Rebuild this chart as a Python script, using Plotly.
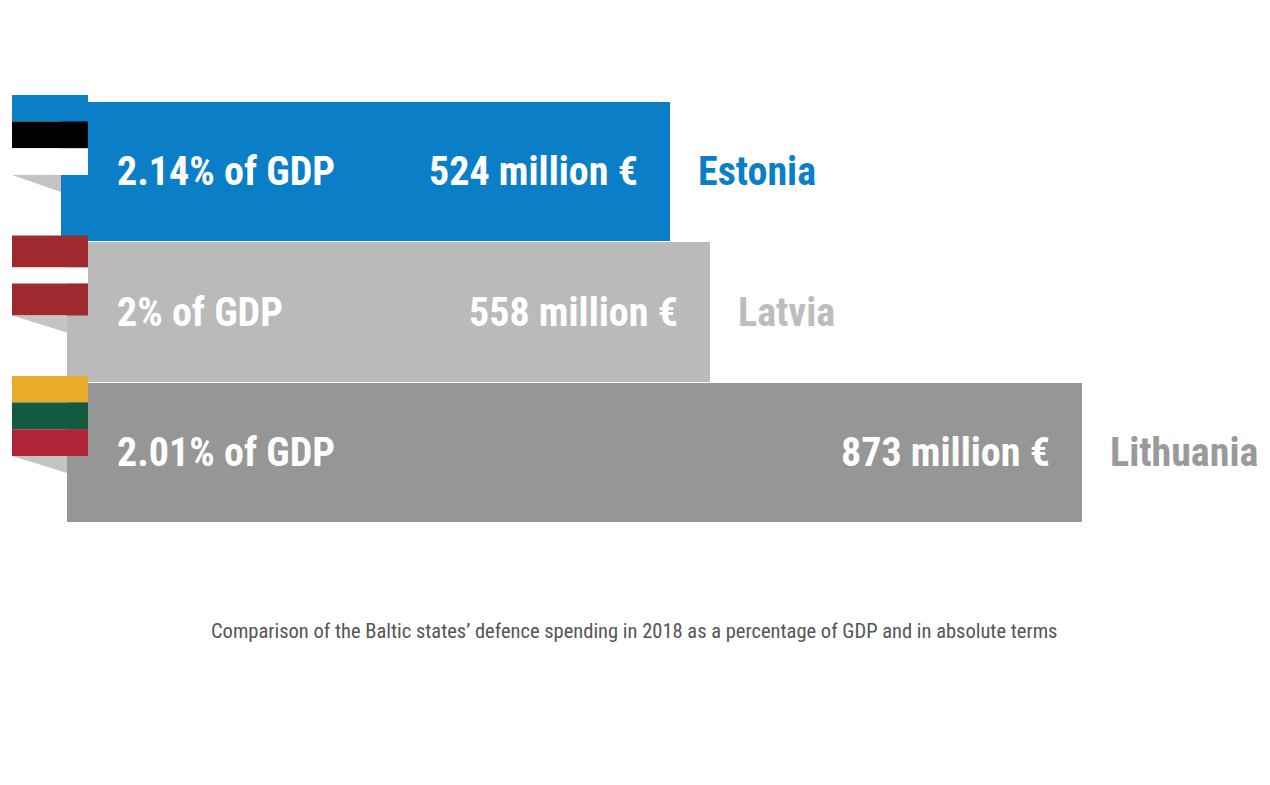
import plotly.graph_objects as go

countries = ["Estonia", "Latvia", "Lithuania"]
spend_meur = [524, 558, 873]
gdp_pct = ["2.14", "2", "2.01"]
caption = "Comparison of the Baltic states\u2019 defence spending in 2018 as a percentage of GDP and in absolute terms"

bar_colors = ["#0a7fc7", "#bababa", "#969696"]
name_colors = ["#0a7fc7", "#bdbdbd", "#9a9a9a"]
bar_base = [7.6, 12.7, 12.7]
flag_stripes = [
    [("#0a7fc7", 1), ("#000000", 1), ("#ffffff", 1)],
    [("#9e2a2f", 2), ("#ffffff", 1), ("#9e2a2f", 2)],
    [("#e8ab2a", 1), ("#125b3f", 1), ("#b0243a", 1)],
]

# page has an 8px body margin, so the figure is a bit smaller than the window
OFF = 8
W, H = 1270 - 2 * OFF, 785 - 2 * OFF
px0, kx = 52 - OFF, 1.18       # pixel of zero and pixels per million
py0, ky = 171.5 - OFF, 140.5   # pixel centre of first bar and bar pitch

big = "Roboto Condensed, Liberation Sans Narrow, Roboto, sans-serif"


def px(x):
    return (x - OFF) / W


fig = go.Figure()
ys = list(range(len(countries)))
fig.add_trace(go.Bar(
    y=ys,
    x=[v - b for v, b in zip(spend_meur, bar_base)],
    base=bar_base,
    orientation="h",
    width=0.99,
    marker=dict(color=bar_colors, line=dict(width=0)),
    hoverinfo="skip",
))

shapes = []
annotations = []
flag_h = 80 / ky
for i, c in enumerate(countries):
    top = i - 0.545
    total = sum(s[1] for s in flag_stripes[i])
    y = top
    for col, share in flag_stripes[i]:
        h = flag_h * share / total
        shapes.append(dict(type="rect", xref="paper", yref="y",
                           x0=px(12), x1=px(88), y0=y, y1=y + h,
                           fillcolor=col, line=dict(width=0), layer="above"))
        y += h
    # shadow wedge under the flag
    x_a = (12 - 52) / kx
    x_b = bar_base[i]
    shapes.append(dict(type="path", xref="x", yref="y",
                       path=f"M {x_a},{y} L {x_b},{y} L {x_b},{y + 17 / ky} Z",
                       fillcolor="#c4c4c4", line=dict(width=0), layer="above"))

    annotations.append(dict(x=px(115), xref="paper", y=i, yref="y",
                            text=f"{gdp_pct[i]}% of GDP", showarrow=False,
                            xanchor="left", yanchor="middle",
                            font=dict(family=big, size=40, color="white", weight="bold")))
    annotations.append(dict(x=spend_meur[i], xref="x", y=i, yref="y",
                            text=f"{spend_meur[i]} million \u20ac", showarrow=False,
                            xanchor="right", yanchor="middle", xshift=-30,
                            font=dict(family=big, size=40, color="white", weight="bold")))
    annotations.append(dict(x=spend_meur[i], xref="x", y=i, yref="y",
                            text=c, showarrow=False,
                            xanchor="left", yanchor="middle", xshift=26,
                            font=dict(family=big, size=40, color=name_colors[i], weight="bold")))

annotations.append(dict(x=px(634), xref="paper", y=1 - (631 - OFF) / H, yref="paper",
                        text=caption, showarrow=False, xanchor="center", yanchor="middle",
                        font=dict(family=big, size=20.5, color="#555555")))

fig.update_layout(
    width=W, height=H,
    margin=dict(l=0, r=0, t=0, b=0),
    paper_bgcolor="white", plot_bgcolor="white",
    showlegend=False,
    bargap=0,
    xaxis=dict(range=[-px0 / kx, (W - px0) / kx], visible=False, fixedrange=True),
    yaxis=dict(range=[(H - py0) / ky, -py0 / ky], visible=False, fixedrange=True),
    shapes=shapes,
    annotations=annotations,
)

fig.write_html("out.html")
